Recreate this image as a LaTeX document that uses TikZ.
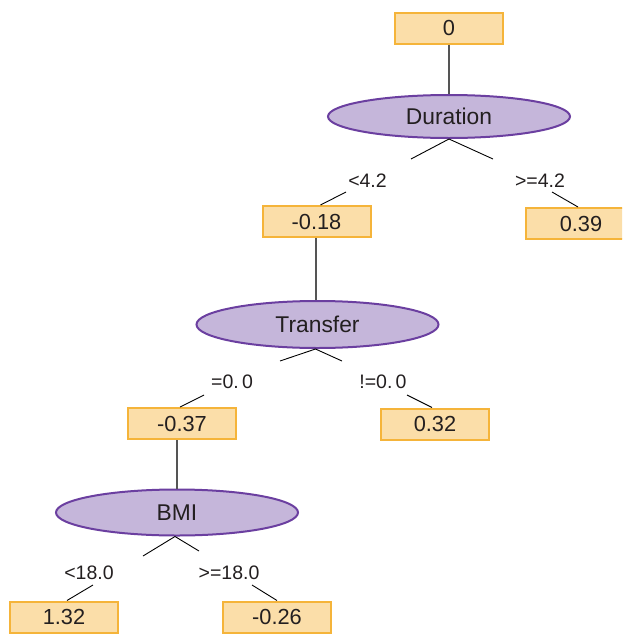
\documentclass[tikz,border=0pt]{standalone}
\usepackage{fontspec}
\setmainfont{Liberation Sans}
\usetikzlibrary{shapes.geometric}
\definecolor{boxfill}{HTML}{FBDEA9}
\definecolor{boxline}{HTML}{F5B43A}
\definecolor{ellfill}{HTML}{C5B6DA}
\definecolor{ellline}{HTML}{6B3FA0}
\definecolor{txt}{HTML}{231F20}
\definecolor{stem}{HTML}{555555}
\tikzset{
  valbox/.style={draw=boxline, fill=boxfill, line width=2pt, minimum width=108pt, minimum height=31pt, inner sep=0pt, text=txt, font=\fontsize{21.8}{24}\selectfont},
  splitnode/.style={ellipse, draw=ellline, fill=ellfill, line width=2pt, minimum width=242pt, inner sep=0pt, text=txt, font=\fontsize{22.8}{25}\selectfont},
  cond/.style={text=txt, inner sep=0pt, font=\fontsize{19.5}{22}\selectfont},
  stemline/.style={draw=stem, line width=1.1pt},
  branch/.style={draw=black, line width=0.9pt}
}
\begin{document}
\begin{tikzpicture}[x=1pt,y=-1pt]
\useasboundingbox (0,0) rectangle (622,637);
\clip (0,0) rectangle (622,637);
% nodes
\node[valbox] (n0) at (449,28) {0};
\node[splitnode, minimum height=43pt] (dur) at (449,116.5) {Duration};
\node[valbox] (n018) at (316.5,221.5) {-0.18};
\node[valbox, minimum width=110pt] (n039) at (581,223.5) {0.39};
\node[splitnode, minimum height=47pt] (tra) at (317.5,324.5) {Transfer};
\node[valbox] (n037) at (182,423.5) {-0.37};
\node[valbox] (n032) at (435,424) {0.32};
\node[splitnode, minimum height=46pt] (bmi) at (177,512.5) {BMI};
\node[valbox] (n132) at (64,617) {1.32};
\node[valbox] (n026) at (277,617) {-0.26};
% condition labels
\node[cond] (c1) at (367.5,180.5) {<4.2};
\node[cond] (c2) at (540,180.5) {>=4.2};
\node[cond] (c3) at (232,382) {=0.\,0};
\node[cond] (c4) at (383,382) {!=0.\,0};
\node[cond] (c5) at (89,573) {<18.0};
\node[cond] (c6) at (229,573) {>=18.0};
% branch coordinates
\coordinate (d1) at (411,159);
\coordinate (d2) at (493,159);
\coordinate (t1) at (280,361);
\coordinate (t2) at (342,361);
\coordinate (b1) at (143,556);
\coordinate (b2) at (199,551);
\coordinate (e1) at (346,192);
\coordinate (e2) at (552,192);
\coordinate (e3) at (204,395);
\coordinate (e4) at (407,395);
\coordinate (e5) at (93,585);
\coordinate (e6) at (252,585);
% stems
\draw[stemline] (n0.south) -- (n0.south |- dur.north);
\draw[stemline] ([xshift=-0.5pt]n018.south) -- ([xshift=-0.5pt]n018.south |- tra.north);
\draw[stemline] ([xshift=-5pt]n037.south) -- ([xshift=-5pt]n037.south |- bmi.north);
% branches
\draw[branch] (d1) -- (dur.south) -- (d2);
\draw[branch] (t1) -- ([xshift=-2pt]tra.south) -- (t2);
\draw[branch] (b1) -- ([xshift=-2pt]bmi.south) -- (b2);
\draw[branch] (e1) -- ([xshift=4pt]n018.north);
\draw[branch] (e2) -- ([xshift=-3pt]n039.north);
\draw[branch] (e3) -- ([xshift=-2pt]n037.north);
\draw[branch] (e4) -- ([xshift=-3pt]n032.north);
\draw[branch] (e5) -- ([xshift=3pt]n132.north);
\draw[branch] (e6) -- (n026.north);
\end{tikzpicture}
\end{document}
